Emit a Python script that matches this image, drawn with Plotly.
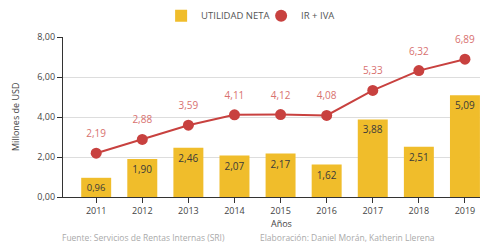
import plotly.graph_objects as go

years = ["2011", "2012", "2013", "2014", "2015", "2016", "2017", "2018", "2019"]
utilidad_neta = [0.96, 1.90, 2.46, 2.07, 2.17, 1.62, 3.88, 2.51, 5.09]
ir_iva = [2.19, 2.88, 3.59, 4.11, 4.12, 4.08, 5.33, 6.32, 6.89]
y_ticks = [0, 2, 4, 6, 8]

def fmt(v):
    return f"{v:.2f}".replace(".", ",")

FONT = "Open Sans"
BAR = "#F0BD2B"
RED = "#C8413F"
LABEL_RED = "#D8716F"

fig = go.Figure()
fig.add_trace(go.Bar(
    x=years, y=utilidad_neta, name="UTILIDAD NETA",
    marker=dict(color=BAR, line=dict(width=0)),
    width=0.65,
    text=[fmt(v) for v in utilidad_neta], textposition="inside",
    insidetextanchor="end",
    textfont=dict(family=FONT, size=10, color="#3a3a3a"),
    cliponaxis=False,
))
fig.add_trace(go.Scatter(
    x=years, y=ir_iva, name="IR + IVA", mode="lines+markers",
    line=dict(color=RED, width=2),
    marker=dict(color=RED, size=11),
    cliponaxis=False, showlegend=False,
))
# labels above the line points (invisible larger marker to push text up)
fig.add_trace(go.Scatter(
    x=years, y=ir_iva, mode="markers+text",
    marker=dict(color="rgba(0,0,0,0)", size=20),
    text=[fmt(v) for v in ir_iva], textposition="top center",
    textfont=dict(family=FONT, size=10, color=LABEL_RED),
    cliponaxis=False, showlegend=False, hoverinfo="skip",
))
fig.add_trace(go.Scatter(
    x=[None], y=[None], name="IR + IVA", mode="markers",
    marker=dict(color=RED, size=11),
))

fig.update_layout(
    width=480, height=235,
    margin=dict(l=55, r=0, t=29, b=46, autoexpand=False),
    paper_bgcolor="white", plot_bgcolor="white",
    font=dict(family=FONT, size=9, color="#444"),
    showlegend=True,
    legend=dict(orientation="h", xref="container", yref="container",
                x=0.319, xanchor="left", y=0.967, yanchor="middle",
                font=dict(family=FONT, size=9.5, color="#555"),
                entrywidth=55, entrywidthmode="pixels",
                itemsizing="constant", itemwidth=30, bgcolor="rgba(0,0,0,0)"),
    xaxis=dict(
        type="category", range=[-0.72, 8.5], automargin=False,
        showline=True, linecolor="#333", linewidth=1.2,
        ticks="outside", ticklen=5, tickcolor="#333",
        showgrid=False,
        tickfont=dict(family=FONT, size=9, color="#444"),
    ),
    yaxis=dict(
        range=[0, 8], tickvals=y_ticks, ticktext=[fmt(v) for v in y_ticks], automargin=False,
        showline=True, linecolor="#333", linewidth=1.2,
        ticks="outside", ticklen=5, tickcolor="#333",
        showgrid=True, gridcolor="#dddddd", gridwidth=1,
        zeroline=False,
        tickfont=dict(family=FONT, size=9, color="#444"),
    ),
    annotations=[
        dict(text="Millones de USD", xref="paper", yref="paper", textangle=-90,
             x=-0.113, y=0.5, xanchor="center", yanchor="middle", showarrow=False,
             font=dict(family=FONT, size=9, color="#444")),
        dict(text="Años", xref="paper", yref="paper",
             x=0.513, y=-0.1625, xanchor="center", yanchor="middle", showarrow=False,
             font=dict(family=FONT, size=9, color="#444")),
        dict(text="Fuente: Servicios de Rentas Internas (SRI)", xref="paper", yref="paper",
             x=-0.007, y=-0.256, xanchor="left", yanchor="middle", showarrow=False,
             font=dict(family=FONT, size=8.5, color="#aaaaaa")),
        dict(text="Elaboración: Daniel Morán, Katherin Llerena", xref="paper", yref="paper",
             x=0.459, y=-0.256, xanchor="left", yanchor="middle", showarrow=False,
             font=dict(family=FONT, size=8.5, color="#aaaaaa")),
    ],
)

fig.write_html("out.html")
